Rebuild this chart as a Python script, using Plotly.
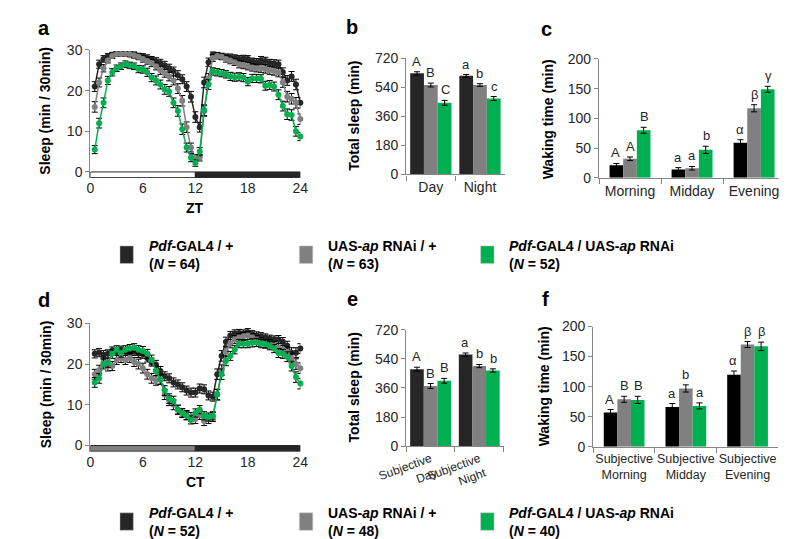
import plotly.graph_objects as go

W, H = 787, 539

# ---------------- data ----------------
genotypes = ["Pdf-GAL4 / +", "UAS-ap RNAi / +", "Pdf-GAL4 / UAS-ap RNAi"]
colors = ["#262626", "#808080", "#00b050"]
bar_colors_wake = ["#000000", "#808080", "#00b050"]
n_ld = [64, 63, 52]
n_dd = [52, 48, 40]

hours = [i * 0.5 for i in range(1, 49)]  # 30-min bins, ZT/CT 0.5 .. 24

# panel a (LD)
a_black = [21.0, 26.5, 27.8, 28.4, 28.8, 29.0, 29.0, 29.0, 28.9, 28.8, 28.5, 28.3,
           28.0, 27.6, 27.2, 26.8, 26.2, 25.5, 24.8, 23.8, 22.8, 21.0, 18.5, 13.5,
           11.0, 22.0, 27.0, 28.8, 28.7, 28.5, 28.3, 28.2, 28.0, 27.8, 27.9, 27.8,
           27.2, 27.0, 27.5, 27.3, 26.8, 26.7, 26.5, 24.5, 22.5, 23.5, 21.5, 17.0]
a_grey = [16.0, 22.0, 25.5, 27.5, 28.5, 29.0, 29.0, 29.0, 29.0, 28.7, 28.3, 27.8,
          27.3, 26.8, 26.0, 25.0, 24.3, 23.5, 22.5, 20.5, 17.5, 11.0, 6.0, 3.5,
          3.5, 15.0, 23.0, 28.0, 28.5, 28.3, 27.8, 27.4, 27.0, 26.5, 26.3, 26.0,
          25.7, 25.5, 25.5, 25.3, 25.0, 24.8, 24.5, 22.0, 18.5, 18.0, 17.0, 13.0]
a_green = [5.5, 12.0, 17.0, 22.5, 24.5, 25.5, 26.0, 26.5, 26.2, 26.0, 25.3, 25.2,
           24.5, 23.2, 22.5, 21.5, 20.3, 19.8, 17.0, 15.0, 10.5, 6.0, 3.5, 2.2,
           5.0, 15.2, 21.5, 24.7, 24.5, 24.3, 24.0, 23.5, 23.3, 23.4, 23.2, 22.2,
           23.0, 23.0, 22.9, 21.2, 21.4, 21.0, 19.0, 16.2, 14.2, 14.0, 10.0, 8.7]
a_black_err = [1.2, 1.0, 0.8, 0.7, 0.6, 0.6, 0.6, 0.6, 0.6, 0.7, 0.7, 0.8,
               0.8, 0.8, 0.9, 0.9, 1.0, 1.0, 1.0, 1.1, 1.1, 1.2, 1.3, 1.3,
               1.2, 1.3, 1.0, 0.7, 0.7, 0.7, 0.7, 0.8, 0.8, 0.8, 0.8, 0.8,
               0.8, 0.9, 0.9, 0.9, 0.9, 0.9, 1.0, 1.1, 1.2, 1.2, 1.3, 1.3]
a_grey_err = [1.3, 1.1, 0.9, 0.7, 0.6, 0.6, 0.6, 0.6, 0.6, 0.7, 0.7, 0.8,
              0.8, 0.9, 0.9, 1.0, 1.0, 1.1, 1.1, 1.2, 1.3, 1.3, 1.1, 0.8,
              0.8, 1.3, 1.2, 0.8, 0.7, 0.7, 0.8, 0.8, 0.8, 0.9, 0.9, 0.9,
              0.9, 0.9, 1.0, 1.0, 1.0, 1.0, 1.1, 1.2, 1.3, 1.3, 1.3, 1.3]
a_green_err = [1.0, 1.2, 1.2, 1.0, 0.9, 0.8, 0.8, 0.8, 0.8, 0.8, 0.9, 0.9,
               1.0, 1.0, 1.1, 1.1, 1.2, 1.2, 1.2, 1.3, 1.3, 1.1, 1.0, 0.8,
               1.0, 1.3, 1.2, 0.9, 0.9, 0.9, 0.9, 1.0, 1.0, 1.0, 1.0, 1.0,
               1.0, 1.0, 1.0, 1.1, 1.1, 1.1, 1.2, 1.2, 1.3, 1.3, 1.2, 1.0]

# panel d (DD)
d_black = [22.5, 22.8, 22.3, 22.5, 23.3, 23.0, 23.5, 23.0, 23.3, 23.0, 22.6, 22.4,
           21.5, 20.5, 19.8, 18.3, 17.0, 16.5, 15.5, 15.0, 14.3, 13.5, 13.0, 13.0,
           14.0, 13.8, 12.3, 12.0, 17.5, 22.0, 25.5, 27.0, 27.5, 27.6, 27.5, 27.8,
           27.3, 27.0, 26.8, 26.5, 26.2, 26.0, 26.0, 25.5, 24.5, 22.8, 22.8, 23.8]
d_grey = [17.5, 18.5, 20.5, 19.5, 19.5, 21.0, 21.5, 21.0, 21.5, 20.5, 20.0, 19.0,
          17.5, 16.5, 16.0, 16.3, 12.5, 11.0, 10.0, 8.8, 8.0, 7.5, 7.0, 6.5,
          7.5, 6.0, 6.5, 7.0, 12.5, 18.5, 23.0, 25.0, 26.0, 26.5, 26.8, 27.0,
          26.5, 26.0, 25.5, 25.0, 25.0, 24.5, 24.0, 23.5, 23.0, 21.5, 20.0, 19.0]
d_green = [15.5, 16.5, 20.0, 20.3, 22.5, 23.5, 22.7, 23.5, 23.8, 24.0, 23.5, 23.2,
           22.5, 21.0, 18.3, 16.2, 13.5, 11.5, 11.0, 8.8, 8.0, 7.3, 6.3, 8.0,
           8.8, 7.3, 7.0, 7.3, 12.5, 17.5, 20.8, 22.0, 23.5, 25.0, 25.0, 25.0,
           25.2, 25.3, 25.0, 24.9, 24.5, 23.8, 22.7, 22.5, 21.8, 19.5, 16.8, 15.2]
d_black_err = [1.0, 1.0, 1.0, 1.0, 0.9, 0.9, 0.9, 0.9, 0.9, 0.9, 1.0, 1.0,
               1.0, 1.0, 1.1, 1.1, 1.1, 1.1, 1.1, 1.1, 1.1, 1.1, 1.1, 1.1,
               1.1, 1.1, 1.1, 1.1, 1.3, 1.3, 1.1, 1.0, 0.9, 0.9, 0.9, 0.9,
               0.9, 0.9, 0.9, 0.9, 0.9, 0.9, 1.0, 1.0, 1.1, 1.2, 1.2, 1.2]
d_grey_err = [1.2, 1.2, 1.2, 1.2, 1.1, 1.1, 1.1, 1.1, 1.1, 1.1, 1.2, 1.2,
              1.2, 1.2, 1.2, 1.2, 1.2, 1.2, 1.2, 1.1, 1.1, 1.1, 1.1, 1.1,
              1.1, 1.1, 1.1, 1.1, 1.3, 1.3, 1.2, 1.0, 1.0, 1.0, 1.0, 1.0,
              1.0, 1.0, 1.0, 1.0, 1.0, 1.0, 1.1, 1.1, 1.2, 1.2, 1.3, 1.3]
d_green_err = [1.2, 1.2, 1.2, 1.1, 1.1, 1.0, 1.0, 1.0, 1.0, 1.0, 1.0, 1.1,
               1.1, 1.2, 1.2, 1.2, 1.2, 1.2, 1.1, 1.1, 1.0, 1.0, 1.0, 1.0,
               1.0, 1.0, 1.0, 1.0, 1.3, 1.3, 1.2, 1.1, 1.0, 1.0, 1.0, 1.0,
               1.0, 1.0, 1.0, 1.0, 1.0, 1.0, 1.1, 1.1, 1.2, 1.2, 1.3, 1.3]

# panel b / e : total sleep
b_cats = ["Day", "Night"]
b_vals = [[625, 610], [553, 553], [443, 470]]
b_errs = [[10, 8], [12, 8], [15, 12]]
b_letters = [["A", "a"], ["B", "b"], ["C", "c"]]

e_cats = ["Subjective<br>Day", "Subjective<br>Night"]
e_vals = [[476, 566], [372, 495], [404, 468]]
e_errs = [[12, 10], [15, 10], [15, 10]]
e_letters = [["A", "a"], ["B", "b"], ["B", "b"]]

# panel c / f : waking time
c_cats = ["Morning", "Midday", "Evening"]
c_vals = [[21, 14, 59], [32, 16, 117], [80, 47, 149]]
c_errs = [[3, 3, 5], [3, 3, 6], [5, 6, 5]]
c_letters = [["A", "a", "α"], ["A", "a", "β"], ["B", "b", "γ"]]

f_cats = ["Subjective<br>Morning", "Subjective<br>Midday", "Subjective<br>Evening"]
f_vals = [[57, 66, 120], [79, 97, 170], [78, 68, 167]]
f_errs = [[5, 6, 6], [5, 6, 5], [6, 5, 7]]
f_letters = [["A", "a", "α"], ["B", "b", "β"], ["B", "a", "β"]]

# light regime bars: (fill colour, hours)
ld_phases = [("white", 12), ("#262626", 12)]
dd_phases = [("#808080", 12), ("#262626", 12)]

# ---------------- layout helpers ----------------
FONT = "Liberation Sans, Arial, sans-serif"
AX = "#868686"
TXT = "#262626"


def px(x):
    return x / W


def py(y):
    return 1 - y / H


# pixel boxes: (left, right, top, bottom)
boxes = {
    "a": (57, 277, 35, 167),
    "b": (388, 491, 43.3, 163.3),
    "c": (590, 785, 44.3, 166.7),
    "d": (57, 277, 316.7, 449),
    "e": (388, 490, 323.3, 443.3),
    "f": (584, 778, 320, 444),
}
axis_ids = {"a": "", "b": "2", "c": "3", "d": "4", "e": "5", "f": "6"}

fig = go.Figure()
annotations = []
shapes = []

# ---------------- line panels ----------------
for key, series, errs, phases in [
    ("a", [a_black, a_grey, a_green], [a_black_err, a_grey_err, a_green_err], ld_phases),
    ("d", [d_black, d_grey, d_green], [d_black_err, d_grey_err, d_green_err], dd_phases),
]:
    ax = axis_ids[key]
    for vals, err, col in zip(series, errs, colors):
        fig.add_trace(go.Scatter(
            x=hours, y=vals, mode="lines+markers",
            line=dict(color=col, width=1.5),
            marker=dict(color=col, size=6),
            error_y=dict(type="data", array=err, color="black", thickness=1, width=3),
            xaxis="x" + ax, yaxis="y" + ax, cliponaxis=False, showlegend=False,
        ))
    start = 0
    for fill, dur in phases:
        shapes.append(dict(type="rect", xref="x" + ax, yref="y" + ax,
                           x0=start, x1=start + dur, y0=-1.4, y1=0,
                           fillcolor=fill, line=dict(color="#262626", width=1)))
        start += dur

# ---------------- bar panels ----------------
bar_specs = [
    ("b", b_cats, b_vals, b_errs, b_letters, colors, 0.28),
    ("e", e_cats, e_vals, e_errs, e_letters, colors, 0.28),
    ("c", c_cats, c_vals, c_errs, c_letters, bar_colors_wake, 0.22),
    ("f", f_cats, f_vals, f_errs, f_letters, bar_colors_wake, 0.22),
]
for key, cats, vals, errs, letters, cols, w in bar_specs:
    ax = axis_ids[key]
    left, right, top, bottom = boxes[key]
    cat_px = (right - left) / len(cats)
    for i, (v, e, lab, col) in enumerate(zip(vals, errs, letters, cols)):
        off = -1.5 * w + i * w
        fig.add_trace(go.Bar(
            x=cats, y=v, width=w, offset=off, marker=dict(color=col, line=dict(width=0)),
            error_y=dict(type="data", array=e, color="black", thickness=1, width=3),
            xaxis="x" + ax, yaxis="y" + ax, showlegend=False,
        ))
        for c, vv, ee, ll in zip(cats, v, e, lab):
            annotations.append(dict(
                x=c, y=vv + ee, xref="x" + ax, yref="y" + ax, text=ll,
                showarrow=False, yanchor="bottom", yshift=1,
                xshift=(off + w / 2) * cat_px,
                font=dict(family=FONT, size=13, color=TXT)))

# ---------------- axes ----------------
layout = dict(width=W, height=H, margin=dict(l=0, r=0, t=0, b=0),
              paper_bgcolor="white", plot_bgcolor="white",
              barmode="overlay", font=dict(family=FONT, color=TXT))

yrng = {"a": [-1.5, 30], "d": [-1.5, 30], "b": [0, 720], "e": [0, 720],
        "c": [0, 200], "f": [0, 200]}
yticks = {"a": [0, 10, 20, 30], "d": [0, 10, 20, 30],
          "b": [0, 180, 360, 540, 720], "e": [0, 180, 360, 540, 720],
          "c": [0, 50, 100, 150, 200], "f": [0, 50, 100, 150, 200]}

for key, (left, right, top, bottom) in boxes.items():
    ax = axis_ids[key]
    xa = dict(domain=[px(left), px(right)], anchor="y" + ax, showgrid=False,
              zeroline=False, tickfont=dict(family=FONT, size=14, color=TXT))
    ya = dict(domain=[py(bottom), py(top)], anchor="x" + ax, range=yrng[key],
              tickvals=yticks[key], showgrid=False, zeroline=False,
              showline=True, linecolor=AX, linewidth=1.3, ticks="outside",
              ticklen=4, tickcolor=AX, tickfont=dict(family=FONT, size=14, color=TXT))
    if key in ("a", "d"):
        xa.update(range=[0, 24], tickvals=[0, 6, 12, 18, 24], showline=False, ticks="")
    else:
        xa.update(showline=True, linecolor=AX, linewidth=1.3, ticks="outside",
                  tickson="boundaries", ticklen=5, tickcolor=AX, tickangle=0)
        if key == "e":
            xa.update(tickangle=-20, tickfont=dict(family=FONT, size=12, color=TXT))
        if key == "f":
            xa.update(tickfont=dict(family=FONT, size=12.5, color=TXT))
    layout["xaxis" + ax] = xa
    layout["yaxis" + ax] = ya

# ---------------- titles & panel letters ----------------
def label(text, x, y, size=14, angle=0, anchor="center"):
    annotations.append(dict(text=text, x=px(x), y=py(y), xref="paper", yref="paper",
                            showarrow=False, textangle=angle, xanchor=anchor,
                            yanchor="middle",
                            font=dict(family=FONT, size=size, color="black")))


for letter, x, y in [("a", 8, 12), ("b", 331, 11), ("c", 535, 13),
                     ("d", 8, 293), ("e", 332, 292), ("f", 534, 292)]:
    label("<b>%s</b>" % letter, x, y, size=20)

label("<b>Sleep (min / 30min)</b>", 10, 98, angle=-90)
label("<b>Sleep (min / 30min)</b>", 10, 380, angle=-90)
label("<b>ZT</b>", 167, 198)
label("<b>CT</b>", 167, 480)
label("<b>Total sleep (min)</b>", 333, 103, angle=-90)
label("<b>Total sleep (min)</b>", 333, 383, angle=-90)
label("<b>Waking time (min)</b>", 536, 106, angle=-90)
label("<b>Waking time (min)</b>", 532, 382, angle=-90)

# ---------------- legends ----------------
legend_text = ["<i>Pdf</i>-GAL4 / +", "UAS-<i>ap</i> RNAi / +",
               "<i>Pdf</i>-GAL4 / UAS-<i>ap</i> RNAi"]
sq_x = [88, 276, 466]
for row_y, ns in [(246, n_ld), (521, n_dd)]:
    for sx, txt, n, col in zip(sq_x, legend_text, ns, colors):
        shapes.append(dict(type="rect", xref="paper", yref="paper",
                           x0=px(sx), x1=px(sx + 14), y0=py(row_y + 9), y1=py(row_y - 9),
                           fillcolor=col, line=dict(color="#bfbfbf", width=0.5)))
        annotations.append(dict(
            text="<b>%s<br>(<i>N</i> = %d)</b>" % (txt, n), x=px(sx + 28), y=py(row_y),
            xref="paper", yref="paper", showarrow=False, xanchor="left",
            yanchor="middle", align="left",
            font=dict(family=FONT, size=14, color="black")))

layout["annotations"] = annotations
layout["shapes"] = shapes
fig.update_layout(**layout)
fig.write_html("out.html")
